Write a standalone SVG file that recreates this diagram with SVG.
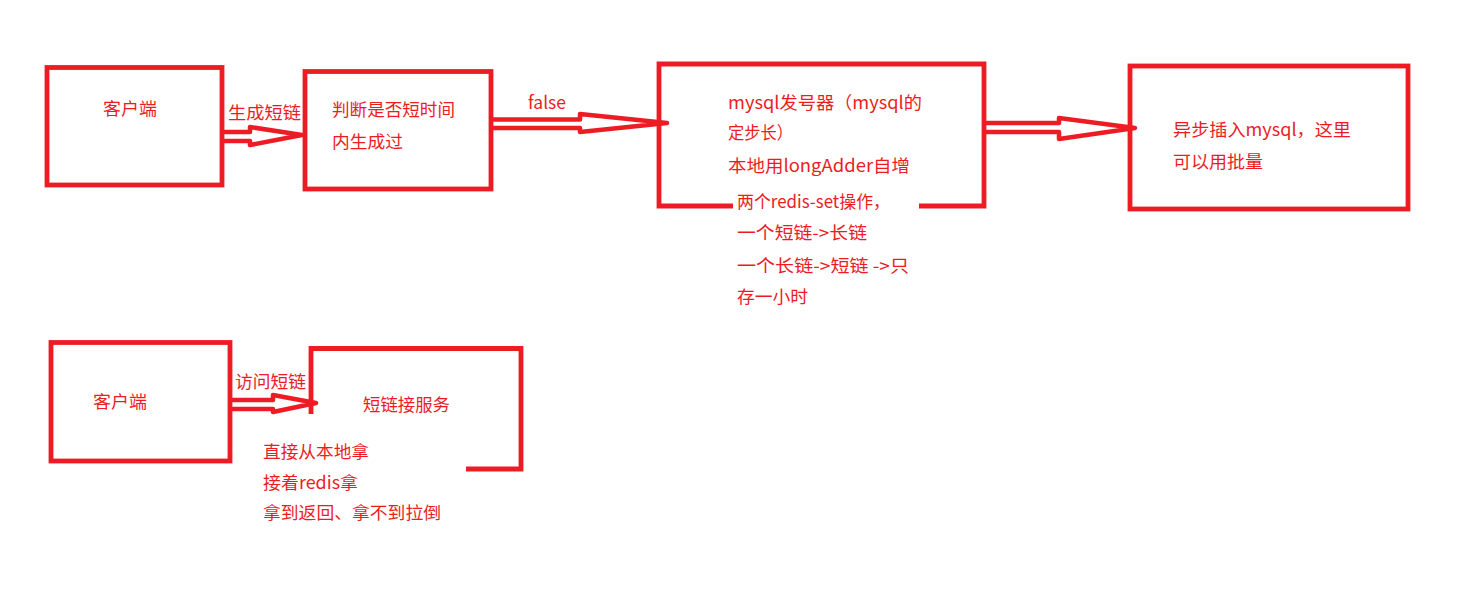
<svg xmlns="http://www.w3.org/2000/svg" width="1467" height="598" viewBox="0 0 1467 598">
<style>
.box{fill:none;stroke:#ED1C24;stroke-width:4.8}
.arr{fill:none;stroke:#ED1C24;stroke-width:4.5;stroke-linejoin:round;stroke-linecap:round}
text{font-family:"Microsoft YaHei","Noto Sans CJK SC","Noto Sans",sans-serif;font-size:17.5px;fill:#ED1C24}
</style>
<rect x="0" y="0" width="1467" height="598" fill="#FFFFFF"/>
<g id="connectors">
<path class="arr" d="M224,132 H250 V127 L302,135 L250,145 V141 H224"/>
<path class="arr" d="M493,119.5 H580 V114 L667,123 L580,132 V128 H493"/>
<path class="arr" d="M986,123 H1059 V118 L1135,128 L1059,139 V132 H986"/>
<path class="arr" d="M232,400 H273 V395 L316,403 L273,412 V409 H232"/>
<text x="228" y="119" textLength="73" lengthAdjust="spacingAndGlyphs">生成短链</text>
<text x="528" y="109" textLength="38" lengthAdjust="spacingAndGlyphs">false</text>
<text x="235" y="388" textLength="71" lengthAdjust="spacingAndGlyphs">访问短链</text>
</g>
<g id="client1">
<rect class="box" x="47" y="67.5" width="175" height="117.5"/>
<text x="103" y="115" textLength="54" lengthAdjust="spacingAndGlyphs">客户端</text>
</g>
<g id="check">
<rect class="box" x="305" y="71.5" width="186" height="117.5"/>
<text x="332" y="116" textLength="123" lengthAdjust="spacingAndGlyphs">判断是否短时间</text>
<text x="332" y="148" textLength="71" lengthAdjust="spacingAndGlyphs">内生成过</text>
</g>
<g id="generator">
<path class="box" d="M733,206 H659 V64 H984 V206 H919"/>
<text x="728" y="109" textLength="194" lengthAdjust="spacingAndGlyphs">mysql发号器（mysql的</text>
<text x="728" y="139" textLength="65" lengthAdjust="spacingAndGlyphs">定步长）</text>
<text x="728" y="172" textLength="182" lengthAdjust="spacingAndGlyphs">本地用longAdder自增</text>
<text x="737" y="208" textLength="153" lengthAdjust="spacingAndGlyphs">两个redis-set操作，</text>
<text x="737" y="239" textLength="130" lengthAdjust="spacingAndGlyphs">一个短链-&gt;长链</text>
<text x="737" y="272" textLength="172" lengthAdjust="spacingAndGlyphs">一个长链-&gt;短链 -&gt;只</text>
<text x="737" y="303" textLength="71" lengthAdjust="spacingAndGlyphs">存一小时</text>
</g>
<g id="async-insert">
<rect class="box" x="1130" y="66" width="278" height="143"/>
<text x="1173" y="136" textLength="178" lengthAdjust="spacingAndGlyphs">异步插入mysql，这里</text>
<text x="1173" y="168" textLength="90" lengthAdjust="spacingAndGlyphs">可以用批量</text>
</g>
<g id="client2">
<rect class="box" x="51" y="342.5" width="179" height="118.5"/>
<text x="93" y="408" textLength="54" lengthAdjust="spacingAndGlyphs">客户端</text>
</g>
<g id="short-service">
<path class="box" d="M311,414 V348.5 H521 V469 H466"/>
<text x="363" y="411" textLength="87" lengthAdjust="spacingAndGlyphs">短链接服务</text>
<text x="263" y="458" textLength="106" lengthAdjust="spacingAndGlyphs">直接从本地拿</text>
<text x="263" y="489" textLength="95" lengthAdjust="spacingAndGlyphs">接着redis拿</text>
<text x="263" y="519" textLength="178" lengthAdjust="spacingAndGlyphs">拿到返回、拿不到拉倒</text>
</g>
</svg>
